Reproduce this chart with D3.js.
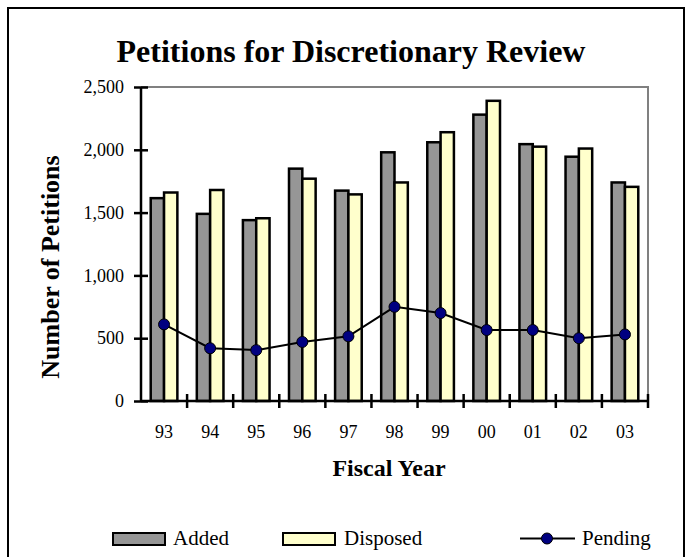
<!DOCTYPE html>
<html>
<head>
<meta charset="utf-8">
<script src="https://cdn.jsdelivr.net/npm/d3@7/dist/d3.min.js"></script>
<style>
  html, body { margin: 0; padding: 0; background: #fff; }
  svg { display: block; }
  svg text { font-family: "Liberation Serif", "Times New Roman", serif; fill: #000; }
</style>
</head>
<body>
<svg id="chart" width="689" height="557"></svg>
<script>
const years = ["93","94","95","96","97","98","99","00","01","02","03"];
const added = [1615,1490,1440,1850,1675,1980,2060,2280,2045,1945,1740];
const disposed = [1660,1680,1455,1770,1645,1740,2140,2390,2025,2010,1705];
const pending = [610,420,405,470,515,750,700,565,565,500,530];
const yTicks = [0,500,1000,1500,2000,2500];
const seriesNames = ["Added","Disposed","Pending"];

const svg = d3.select("#chart");
const pLeft = 141, pRight = 648, pTop = 87, pBottom = 401;

// outer border
svg.append("rect").attr("x",8).attr("y",8).attr("width",676).attr("height",580)
  .attr("fill","none").attr("stroke","#000").attr("stroke-width",2);

// title
svg.append("text").attr("x",351).attr("y",62).attr("text-anchor","middle")
  .attr("font-size",32).attr("font-weight","bold").text("Petitions for Discretionary Review");

const x = d3.scaleBand().domain(years).range([pLeft,pRight]).padding(0);
const xs = d3.scaleBand().domain(["Added","Disposed"]).range([0,x.bandwidth()])
  .paddingInner(0).paddingOuter(0.73);
const y = d3.scaleLinear().domain([0,2500]).range([pBottom,pTop]);

// plot border (gray top/right)
svg.append("path").attr("d",`M${pLeft},${pTop}H${pRight}V${pBottom}`)
  .attr("fill","none").attr("stroke","#808080").attr("stroke-width",2);

// bars
const data = years.map((yr,i)=>({yr, Added: added[i], Disposed: disposed[i]}));
const colors = {Added:"#969696", Disposed:"#FFFFCC"};
const g = svg.append("g");
data.forEach(d=>{
  ["Added","Disposed"].forEach(k=>{
    g.append("rect")
      .attr("x", x(d.yr)+xs(k))
      .attr("y", y(d[k]))
      .attr("width", xs.bandwidth())
      .attr("height", y(0)-y(d[k]))
      .attr("fill", colors[k]).attr("stroke","#000").attr("stroke-width",2.5);
  });
});

// line
const line = d3.line().x((d,i)=>x(years[i])+x.bandwidth()/2).y(d=>y(d));
svg.append("path").datum(pending).attr("d",line).attr("fill","none")
  .attr("stroke","#000").attr("stroke-width",2);
svg.selectAll("circle.p").data(pending).enter().append("circle")
  .attr("cx",(d,i)=>x(years[i])+x.bandwidth()/2).attr("cy",d=>y(d)).attr("r",5.5)
  .attr("fill","#000080").attr("stroke","#000").attr("stroke-width",1);

// y axis
const yAxis = svg.append("g").attr("transform",`translate(${pLeft},0)`)
  .call(d3.axisLeft(y).tickValues(yTicks).tickFormat(d3.format(",")).tickSize(7).tickPadding(10));
yAxis.attr("font-family",null);
yAxis.select(".domain").attr("stroke","#000").attr("stroke-width",2.5).attr("d",`M0,${pTop}V${pBottom}`);
yAxis.selectAll(".tick line").attr("x1",-7).attr("x2",7).attr("stroke","#000").attr("stroke-width",2.5);
yAxis.selectAll(".tick text").attr("font-size",18).attr("fill","#000");

// x axis
const xAxis = svg.append("g").attr("transform",`translate(0,${pBottom})`)
  .call(d3.axisBottom(x).tickSize(0).tickPadding(24));
xAxis.attr("font-family",null);
xAxis.select(".domain").attr("stroke","#000").attr("stroke-width",2.5).attr("d",`M${pLeft},0H${pRight}`);
xAxis.selectAll(".tick text").attr("font-size",18).attr("fill","#000");
const boundaries = years.map(d=>x(d)).concat([pRight]).slice(1);
xAxis.selectAll("line.b").data(boundaries).enter().append("line")
  .attr("x1",d=>d).attr("x2",d=>d).attr("y1",-7).attr("y2",7)
  .attr("stroke","#000").attr("stroke-width",2.5);

// axis titles
svg.append("text").attr("x",389).attr("y",476).attr("text-anchor","middle")
  .attr("font-size",24).attr("font-weight","bold").text("Fiscal Year");
svg.append("text").attr("transform","translate(59,267) rotate(-90)").attr("text-anchor","middle")
  .attr("font-size",26).attr("font-weight","bold").text("Number of Petitions");

// legend
const leg = svg.append("g");
leg.append("rect").attr("x",113).attr("y",533).attr("width",52).attr("height",12)
  .attr("fill",colors.Added).attr("stroke","#000").attr("stroke-width",2);
leg.append("text").attr("x",173).attr("y",545).attr("font-size",21).text(seriesNames[0]);
leg.append("rect").attr("x",283).attr("y",533).attr("width",52).attr("height",12)
  .attr("fill",colors.Disposed).attr("stroke","#000").attr("stroke-width",2);
leg.append("text").attr("x",344).attr("y",545).attr("font-size",21).text(seriesNames[1]);
leg.append("line").attr("x1",520).attr("x2",575).attr("y1",538.5).attr("y2",538.5)
  .attr("stroke","#000").attr("stroke-width",2);
leg.append("circle").attr("cx",547).attr("cy",538.5).attr("r",5.5)
  .attr("fill","#000080").attr("stroke","#000");
leg.append("text").attr("x",582).attr("y",545).attr("font-size",21).text(seriesNames[2]);
</script>
</body>
</html>
